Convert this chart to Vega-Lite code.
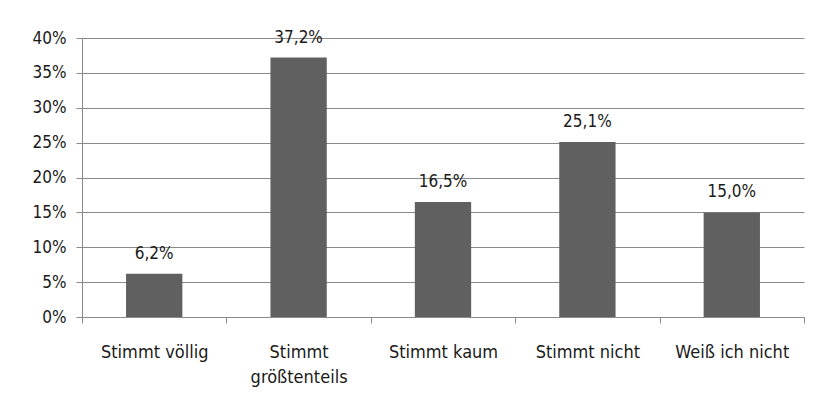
{
  "$schema": "https://vega.github.io/schema/vega-lite/v6.json",
  "autosize": "none",
  "width": 722,
  "height": 279,
  "padding": {"left": 82, "top": 38, "right": 10, "bottom": 97},
  "background": "white",
  "config": {
    "locale": {"number": {"decimal": ",", "thousands": ".", "grouping": [3], "currency": ["", " €"]}},
    "view": {"stroke": null},
    "font": "DejaVu Sans Condensed, sans-serif",
    "axis": {"labelFont": "DejaVu Sans Condensed, sans-serif", "labelFontSize": 17, "labelColor": "#1a1a1a", "domainColor": "#8a8a8a", "tickColor": "#8a8a8a", "gridColor": "#8a8a8a", "gridOpacity": 1, "domainWidth": 1, "tickWidth": 1, "gridWidth": 1}
  },
  "data": {"values": [
    {"kategorie": "Stimmt völlig", "anteil": 0.062},
    {"kategorie": "Stimmt größtenteils", "anteil": 0.372},
    {"kategorie": "Stimmt kaum", "anteil": 0.165},
    {"kategorie": "Stimmt nicht", "anteil": 0.251},
    {"kategorie": "Weiß ich nicht", "anteil": 0.150}
  ]},
  "encoding": {
    "x": {
      "field": "kategorie", "type": "nominal", "sort": null,
      "scale": {"paddingInner": 0, "paddingOuter": 0},
      "axis": {"title": null, "labelAngle": 0, "tickBand": "extent", "tickSize": 6, "labelPadding": 20, "labelFontSize": 18, "labelLineHeight": 25,
        "labelExpr": "datum.label == 'Stimmt größtenteils' ? ['Stimmt', 'größtenteils'] : datum.label"}
    },
    "y": {
      "field": "anteil", "type": "quantitative",
      "scale": {"domain": [0, 0.4], "nice": false},
      "axis": {"title": null, "format": ".0%", "values": [0, 0.05, 0.1, 0.15, 0.2, 0.25, 0.3, 0.35, 0.4], "tickSize": 6, "labelPadding": 10, "grid": true}
    }
  },
  "layer": [
    {"mark": {"type": "bar", "color": "#606060", "width": {"band": 0.39}}},
    {"mark": {"type": "text", "dy": -15, "baseline": "alphabetic", "fontSize": 17, "color": "#1a1a1a"},
     "encoding": {"text": {"field": "anteil", "type": "quantitative", "format": ".1%"}}}
  ]
}
